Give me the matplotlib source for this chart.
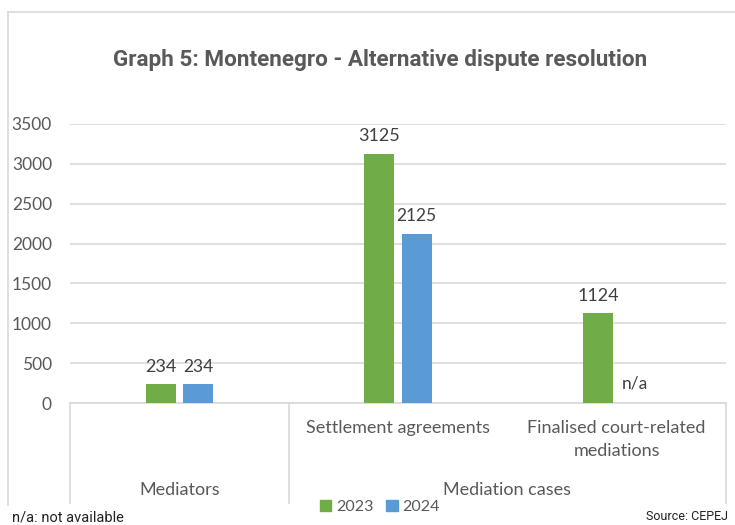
import numpy as np
import matplotlib.pyplot as plt
from matplotlib.lines import Line2D
from matplotlib.patches import Patch

# data
categories = ['Mediators', 'Settlement agreements', 'Finalised court-related\nmediations']
groups = ['Mediators', 'Mediation cases']
years = ['2023', '2024']
vals_2023 = [234, 3125, 1124]
vals_2024 = [234, 2125, None]   # n/a for finalised mediations

green = '#70AD47'
blue = '#5B9BD5'
grid_c = '#D9D9D9'
txt_c = '#595959'

W, H = 735, 525
fig = plt.figure(figsize=(W / 100, H / 100), dpi=100)

def fx(px):
    return px / W

def fy(py):
    return 1 - py / H

ax = fig.add_axes([fx(70), fy(403), fx(726) - fx(70), fy(124) - fy(403)])

x = np.arange(len(categories))
off = 0.085
bw = 0.137

v24 = [v if v is not None else 0 for v in vals_2024]
b1 = ax.bar(x - off, vals_2023, bw, color=green, zorder=3)
b2 = ax.bar(x + off, v24, bw, color=blue, zorder=3)

for rect, v in zip(b1, vals_2023):
    ax.annotate(str(v), (rect.get_x() + rect.get_width() / 2, v), xytext=(0, 7),
                textcoords='offset points', ha='center', va='bottom',
                fontsize=13, color='#404040', family='Lato')
for rect, v in zip(b2, vals_2024):
    lab = str(v) if v is not None else 'n/a'
    yv = v if v is not None else 0
    dy = 7 if v is not None else 8
    ax.annotate(lab, (rect.get_x() + rect.get_width() / 2, yv), xytext=(0, dy),
                textcoords='offset points', ha='center', va='bottom',
                fontsize=12.5, color='#404040', family='Lato')

ax.set_xlim(-0.5, 2.5)
ax.set_ylim(0, 3500)
ax.set_yticks(np.arange(0, 3501, 500))
ax.yaxis.grid(True, color=grid_c, linewidth=1.2, zorder=0)
ax.set_axisbelow(True)
for s in ['top', 'right', 'left']:
    ax.spines[s].set_visible(False)
ax.spines['bottom'].set_color(grid_c)
ax.spines['bottom'].set_linewidth(1.2)
ax.tick_params(axis='y', length=0, pad=13, labelsize=12.5, labelcolor=txt_c)
ax.tick_params(axis='x', length=0)
ax.set_xticks([])
for t in ax.get_yticklabels():
    t.set_family('Lato')

# category labels (two-level axis)
trans = ax.get_xaxis_transform()
ax_h = 403 - 124
def ay(py):
    return (403 - py) / ax_h

for i, c in enumerate(categories[1:], start=1):
    ax.text(i, ay(420), c, transform=trans, ha='center', va='top',
            fontsize=13, color=txt_c, family='Lato', linespacing=1.55)
ax.text(0, ay(490), groups[0], transform=trans, ha='center', va='center',
        fontsize=13, color=txt_c, family='Lato')
ax.text(1.5, ay(490), groups[1], transform=trans, ha='center', va='center',
        fontsize=13, color=txt_c, family='Lato')

for xv in [-0.5, 0.5, 2.5]:
    ax.add_line(Line2D([xv, xv], [0, ay(503)], transform=trans, color=grid_c,
                       linewidth=1.2, clip_on=False))

# title
fig.text(fx(380), fy(60), 'Graph 5: Montenegro - Alternative dispute resolution',
         ha='center', va='center', fontsize=16.2, fontweight='bold', color=txt_c,
         family='Roboto')

# legend
handles = [Patch(color=green, label=years[0]), Patch(color=blue, label=years[1])]
leg = fig.legend(handles=handles, loc='center', bbox_to_anchor=(fx(380), fy(507)),
                 ncol=2, frameon=False, handlelength=0.7, handleheight=0.7,
                 handletextpad=0.3, columnspacing=0.8,
                 prop={'family': 'Lato', 'size': 11.5})
for t in leg.get_texts():
    t.set_color(txt_c)

# chart border (left and top)
fig.add_artist(Line2D([fx(8), fx(8)], [fy(12), fy(505)], color=grid_c, linewidth=1.2))
fig.add_artist(Line2D([fx(8), fx(735)], [fy(12), fy(12)], color=grid_c, linewidth=1.2))

# footnotes
fig.text(fx(12), fy(517), 'n/a: not available', ha='left', va='center',
         fontsize=10.5, color='#222222', family='Roboto')
fig.text(fx(728), fy(517), 'Source: CEPEJ', ha='right', va='center',
         fontsize=9, color='#222222', family='Roboto')

fig.savefig('out.png', dpi=100)
